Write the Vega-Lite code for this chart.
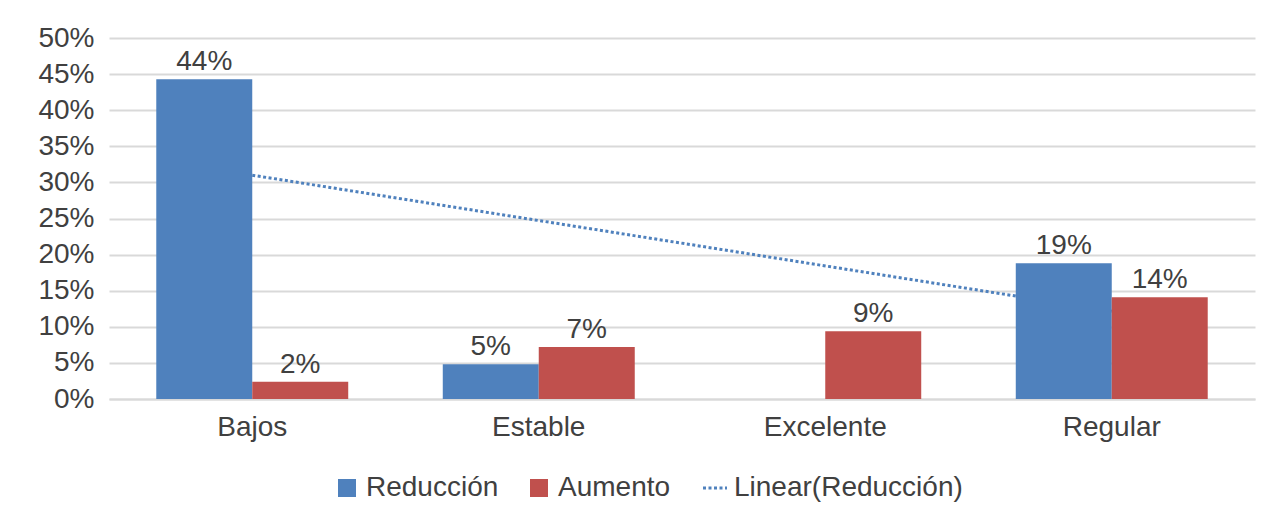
{
  "$schema": "https://vega.github.io/schema/vega-lite/v6.json",
  "autosize": "none",
  "width": 1146,
  "height": 361,
  "padding": {"left": 109, "top": 38, "right": 14, "bottom": 129},
  "background": "white",
  "config": {
    "view": {"stroke": null},
    "font": "Liberation Sans",
    "axis": {"labelFont": "Liberation Sans", "labelFontSize": 28, "labelColor": "#404040"},
    "legend": {"labelFont": "Liberation Sans", "labelFontSize": 28, "labelColor": "#404040", "labelLimit": 400}
  },
  "datasets": {
    "barras": [
      {"categoria": "Bajos", "serie": "Reducción", "valor": 0.443},
      {"categoria": "Bajos", "serie": "Aumento", "valor": 0.024},
      {"categoria": "Estable", "serie": "Reducción", "valor": 0.048},
      {"categoria": "Estable", "serie": "Aumento", "valor": 0.072},
      {"categoria": "Excelente", "serie": "Aumento", "valor": 0.094},
      {"categoria": "Regular", "serie": "Reducción", "valor": 0.188},
      {"categoria": "Regular", "serie": "Aumento", "valor": 0.141}
    ],
    "tendencia": [
      {"categoria": "Bajos", "valor": 0.310},
      {"categoria": "Regular", "valor": 0.1215}
    ]
  },
  "encoding": {
    "x": {
      "field": "categoria",
      "type": "nominal",
      "sort": ["Bajos", "Estable", "Excelente", "Regular"],
      "scale": {"domain": ["Bajos", "Estable", "Excelente", "Regular"], "paddingInner": 0.33, "paddingOuter": 0.165},
      "axis": {
        "title": null,
        "labelAngle": 0,
        "ticks": false,
        "domainColor": "#D9D9D9",
        "domainWidth": 2,
        "labelPadding": 14,
        "grid": false
      }
    },
    "y": {
      "field": "valor",
      "type": "quantitative",
      "scale": {"domain": [0, 0.5], "nice": false},
      "axis": {
        "title": null,
        "format": ".0%",
        "values": [0, 0.05, 0.1, 0.15, 0.2, 0.25, 0.3, 0.35, 0.4, 0.45, 0.5],
        "ticks": false,
        "domain": false,
        "gridColor": "#D9D9D9",
        "gridWidth": 2,
        "labelPadding": 15,
        "labelBaseline": "middle"
      }
    }
  },
  "layer": [
    {
      "data": {"name": "tendencia"},
      "mark": {"type": "line", "strokeWidth": 3, "strokeDash": [3, 2.5], "strokeCap": "butt"},
      "encoding": {
        "color": {"datum": "Linear(Reducción)", "type": "nominal"}
      }
    },
    {
      "data": {"name": "barras"},
      "mark": {"type": "bar"},
      "encoding": {
        "xOffset": {"field": "serie", "type": "nominal", "scale": {"domain": ["Reducción", "Aumento"], "paddingInner": 0}},
        "color": {
          "field": "serie",
          "type": "nominal",
          "scale": {
            "domain": ["Reducción", "Aumento", "Linear(Reducción)"],
            "range": ["#4F81BD", "#C0504D", "#4F81BD"]
          },
          "legend": {
            "title": null,
            "orient": "none",
            "direction": "horizontal",
            "legendX": 224,
            "legendY": 436,
            "symbolSize": 225,
            "columnPadding": 26,
            "labelOffset": 5,
            "encode": {
              "symbols": {
                "update": {
                  "shape": {"signal": "datum.value === 'Linear(Reducción)' ? 'stroke' : 'square'"},
                  "fill": {"signal": "datum.value === 'Linear(Reducción)' ? 'transparent' : scale('color', datum.value)"},
                  "stroke": {"signal": "datum.value === 'Linear(Reducción)' ? '#4F81BD' : 'transparent'"},
                  "strokeWidth": {"value": 3},
                  "strokeDash": {"signal": "datum.value === 'Linear(Reducción)' ? [3, 2.5] : []"},
                  "size": {"signal": "datum.value === 'Linear(Reducción)' ? 576 : 225"},
                  "opacity": {"value": 1}
                }
              }
            }
          }
        }
      }
    },
    {
      "data": {"name": "barras"},
      "mark": {"type": "text", "baseline": "bottom", "dy": -3, "fontSize": 28, "color": "#404040", "font": "Liberation Sans"},
      "encoding": {
        "xOffset": {"field": "serie", "type": "nominal", "scale": {"domain": ["Reducción", "Aumento"], "paddingInner": 0}},
        "text": {"field": "valor", "type": "quantitative", "format": ".0%"}
      }
    }
  ]
}
